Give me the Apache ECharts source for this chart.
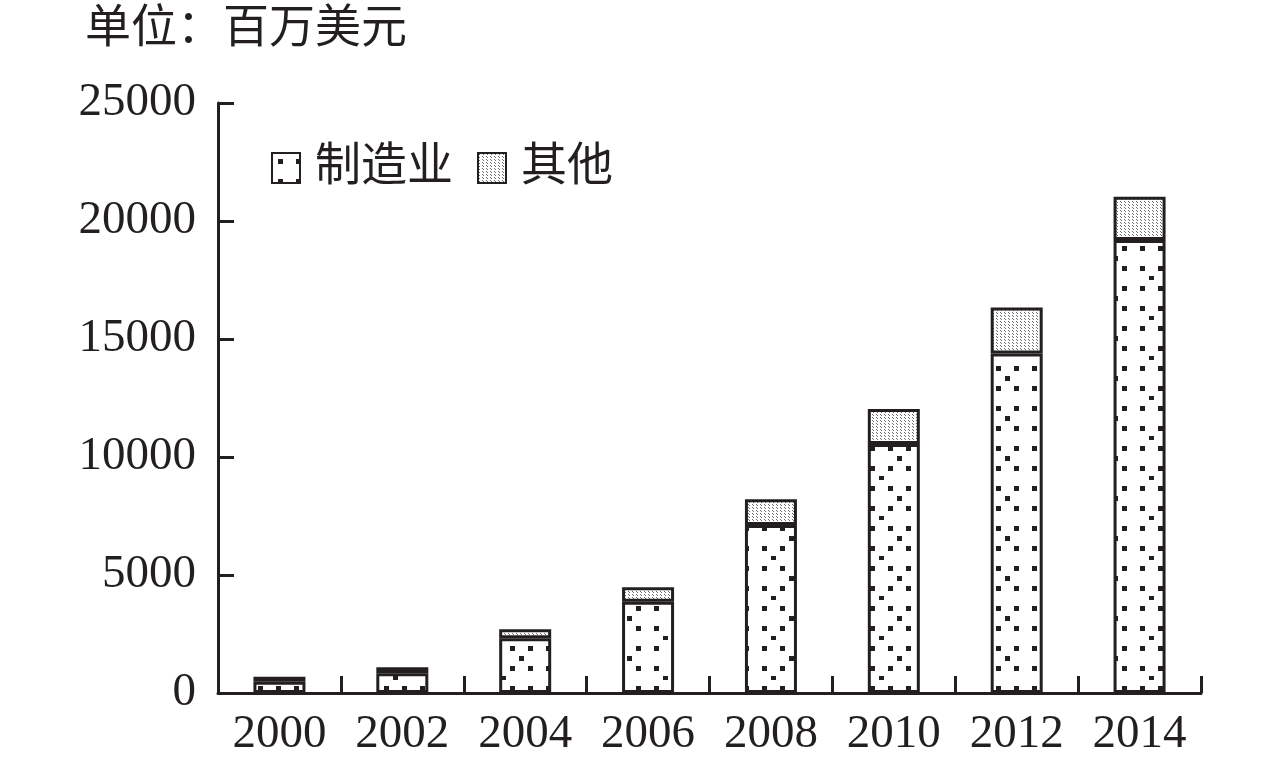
<!DOCTYPE html>
<html>
<head>
<meta charset="utf-8">
<script src="https://cdn.jsdelivr.net/npm/echarts@6/dist/echarts.min.js"></script>
<style>
  html, body { margin: 0; padding: 0; background: #fff; }
  #main { width: 1280px; height: 762px; }
</style>
</head>
<body>
<div id="main"></div>
<script>
var years = ['2000', '2002', '2004', '2006', '2008', '2010', '2012', '2014'];
var manufacturing = [480, 840, 2320, 3870, 7120, 10550, 14390, 19190];
var other = [210, 250, 380, 610, 1090, 1480, 1950, 1840];

var ink = '#231f20';
var serif = '"Liberation Serif", "Noto Sans CJK SC", serif';

// 制造业: sparse black square dots
function dotPattern() {
    var c = document.createElement('canvas');
    c.width = 54; c.height = 40;
    var g = c.getContext('2d');
    g.fillStyle = '#fff';
    g.fillRect(0, 0, 54, 40);
    g.fillStyle = ink;
    [[0, 0], [18, 0], [36, 0], [27, 10], [0, 20], [18, 20], [36, 20], [9, 30]].forEach(function (p) {
        g.fillRect(p[0] + 6, p[1] + 6, 5, 5);
    });
    return c;
}

// 其他: fine grey stipple
function finePattern() {
    var c = document.createElement('canvas');
    c.width = 4; c.height = 3;
    var g = c.getContext('2d');
    g.fillStyle = '#fff';
    g.fillRect(0, 0, 4, 3);
    g.fillStyle = '#6d6d6d';
    g.fillRect(0, 0, 1, 1);
    g.fillRect(1, 1, 1, 1);
    return c;
}

var myChart = echarts.init(document.getElementById('main'));
myChart.setOption({
    animation: false,
    title: {
        text: '单位：百万美元',
        left: 80,
        top: 2,
        textStyle: { fontFamily: serif, fontSize: 46, fontWeight: 'normal', color: ink }
    },
    legend: {
        left: 266,
        top: 140,
        icon: 'rect',
        itemWidth: 28,
        itemHeight: 30,
        itemGap: 24,
        textStyle: { fontFamily: serif, fontSize: 46, color: ink, padding: [0, 0, 0, 10] },
        data: ['制造业', '其他']
    },
    grid: { left: 218, right: 79, top: 103, bottom: 69 },
    xAxis: {
        type: 'category',
        data: years,
        axisLine: { lineStyle: { color: ink, width: 3 } },
        axisTick: { show: true, inside: true, length: 17, lineStyle: { color: ink, width: 3 } },
        axisLabel: { fontFamily: serif, fontSize: 47, color: ink, margin: 18 }
    },
    yAxis: {
        type: 'value',
        min: 0,
        max: 25000,
        interval: 5000,
        splitLine: { show: false },
        axisLine: { show: true, lineStyle: { color: ink, width: 3 } },
        axisTick: { show: true, inside: true, length: 16, lineStyle: { color: ink, width: 3 } },
        axisLabel: {
            fontFamily: serif, fontSize: 47, color: ink, margin: 22,
            formatter: function (v) { return String(v); }
        }
    },
    series: [
        {
            name: '制造业',
            type: 'bar',
            stack: 'total',
            barWidth: 52,
            itemStyle: {
                color: { image: dotPattern(), repeat: 'repeat' },
                borderColor: ink,
                borderWidth: 3
            },
            data: manufacturing
        },
        {
            name: '其他',
            type: 'bar',
            stack: 'total',
            barWidth: 52,
            itemStyle: {
                color: { image: finePattern(), repeat: 'repeat' },
                borderColor: ink,
                borderWidth: 3
            },
            data: other
        }
    ]
});
</script>
</body>
</html>
